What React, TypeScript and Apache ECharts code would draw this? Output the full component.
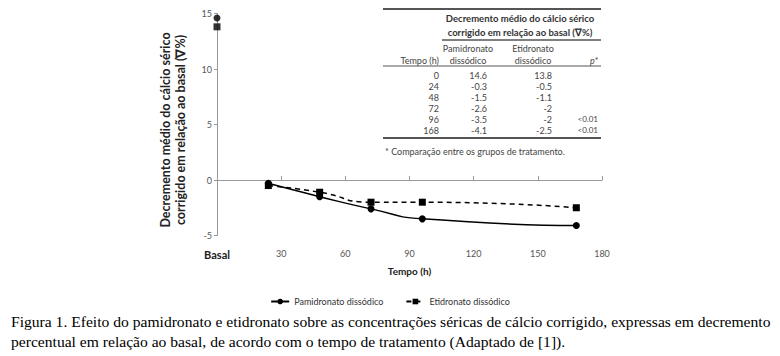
import React, { useEffect, useRef } from "react";
import * as echarts from "echarts";

const times = [0, 24, 48, 72, 96, 168];
const pamidronato = [14.6, -0.3, -1.5, -2.6, -3.5, -4.1];
const etidronato = [13.8, -0.5, -1.1, -2, -2, -2.5];
const pValues = ["", "", "", "", "<0.01", "<0.01"];
const seriesNames = ["Pamidronato dissódico", "Etidronato dissódico"];
const yAxisTitle = ["Decremento médio do cálcio sérico", "corrigido em relação ao basal (∇%)"];
const xAxisTitle = "Tempo (h)";
const tableHeader = ["Decremento médio do cálcio sérico", "corrigido em relação ao basal (∇%)"];
const tableColumns = ["Tempo (h)", "Pamidronato\ndissódico", "Etidronato\ndissódico", "p*"];
const tableFootnote = "* Comparação entre os grupos de tratamento.";
const captionLines = [
  "Figura 1. Efeito do pamidronato e etidronato sobre as concentrações séricas de cálcio corrigido, expressas em decremento",
  "percentual em relação ao basal, de acordo com o tempo de tratamento (Adaptado de [1]).",
];

const FONT = "Lato, 'Open Sans', sans-serif";
const SERIF = "'Liberation Serif', 'Times New Roman', serif";

export default function App() {
  const ref = useRef<HTMLDivElement>(null);
  useEffect(() => {
    if (!ref.current) return;
    const chart = echarts.init(ref.current, null, { renderer: "svg" });

    const fmt = (v: number) => (v < 0 ? "-" + Math.abs(v) : String(v));
    const rowY0 = 75;
    const rowStep = 11;
    const tableTexts: any[] = [];
    times.forEach((t, i) => {
      const y = rowY0 + i * rowStep;
      tableTexts.push({ type: "text", x: 439, y, style: { text: String(t), align: "right", verticalAlign: "middle", fontSize: 9, fontFamily: FONT, fill: "#444" } });
      tableTexts.push({ type: "text", x: 487, y, style: { text: fmt(pamidronato[i]), align: "right", verticalAlign: "middle", fontSize: 9, fontFamily: FONT, fill: "#444" } });
      tableTexts.push({ type: "text", x: 552, y, style: { text: fmt(etidronato[i]), align: "right", verticalAlign: "middle", fontSize: 9, fontFamily: FONT, fill: "#444" } });
      if (pValues[i]) tableTexts.push({ type: "text", x: 598, y, style: { text: pValues[i], align: "right", verticalAlign: "middle", fontSize: 8, fontFamily: FONT, fill: "#444" } });
    });

    const option: any = {
      animation: false,
      textStyle: { fontFamily: FONT },
      grid: { left: 217, top: 13.5, width: 385, height: 222, containLabel: false },
      legend: {
        data: seriesNames,
        left: "center",
        top: 292,
        itemWidth: 18,
        itemHeight: 7,
        itemGap: 22,
        textStyle: { fontSize: 9, color: "#333", fontFamily: FONT },
      },
      xAxis: [
        {
          type: "value",
          min: 0,
          max: 180,
          interval: 30,
          axisLine: { show: false, onZero: false },
          axisTick: { show: false },
          splitLine: { show: false },
          axisLabel: {
            margin: 13,
            fontSize: 9,
            color: "#555",
            formatter: (v: number) => (v === 0 ? "{b|Basal}" : String(v)),
            rich: { b: { fontSize: 11, fontWeight: "bold", color: "#222", fontFamily: FONT } },
          },
          name: xAxisTitle,
          nameLocation: "middle",
          nameGap: 30,
          nameTextStyle: { fontSize: 10, fontWeight: "bold", color: "#222" },
        },
        {
          type: "value",
          min: 0,
          max: 180,
          interval: 30,
          position: "bottom",
          axisLine: { show: true, onZero: true, lineStyle: { color: "#999", width: 1 } },
          axisTick: { show: true, inside: true, length: 4, lineStyle: { color: "#999" } },
          axisLabel: { show: false },
          splitLine: { show: false },
        },
      ],
      yAxis: {
        type: "value",
        min: -5,
        max: 15,
        interval: 5,
        axisLine: { show: true, lineStyle: { color: "#999", width: 1 } },
        axisTick: { show: true, length: 3, lineStyle: { color: "#999" } },
        splitLine: { show: false },
        axisLabel: { fontSize: 9, color: "#555", margin: 5 },
      },
      series: [
        {
          name: seriesNames[0],
          type: "line",
          xAxisIndex: 0,
          smooth: 0.6,
          symbol: "circle",
          symbolSize: 7,
          itemStyle: { color: "#000" },
          lineStyle: { color: "#000", width: 1.5 },
          data: times.slice(1).map((t, i) => [t, pamidronato[i + 1]]),
          z: 3,
        },
        {
          name: seriesNames[1],
          type: "line",
          xAxisIndex: 0,
          smooth: 0.6,
          symbol: "rect",
          symbolSize: 7,
          itemStyle: { color: "#000" },
          lineStyle: { color: "#000", width: 1.5, type: [5, 4] },
          data: times.slice(1).map((t, i) => [t, etidronato[i + 1]]),
          z: 3,
        },
        {
          name: "basal-p",
          type: "scatter",
          xAxisIndex: 0,
          symbol: "circle",
          symbolSize: 7,
          itemStyle: { color: "#000" },
          data: [[times[0], pamidronato[0]]],
        },
        {
          name: "basal-e",
          type: "scatter",
          xAxisIndex: 0,
          symbol: "rect",
          symbolSize: 7,
          itemStyle: { color: "#000" },
          data: [[times[0], etidronato[0]]],
        },
      ],
      graphic: [
        {
          type: "text",
          x: 173,
          y: 130,
          rotation: Math.PI / 2,
          style: {
            text: yAxisTitle.join("\n"),
            align: "center",
            verticalAlign: "middle",
            fontSize: 12.5,
            lineHeight: 15,
            fontWeight: "bold",
            fontFamily: FONT,
            fill: "#222",
          },
        },
        // table lines
        { type: "line", shape: { x1: 383, y1: 9, x2: 601, y2: 9 }, style: { stroke: "#555", lineWidth: 2 } },
        { type: "line", shape: { x1: 442, y1: 40, x2: 601, y2: 40 }, style: { stroke: "#555", lineWidth: 1.5 } },
        { type: "line", shape: { x1: 383, y1: 66, x2: 601, y2: 66 }, style: { stroke: "#555", lineWidth: 1 } },
        { type: "line", shape: { x1: 383, y1: 138, x2: 601, y2: 138 }, style: { stroke: "#555", lineWidth: 2 } },
        {
          type: "text",
          x: 520,
          y: 25,
          style: { text: tableHeader.join("\n"), align: "center", verticalAlign: "middle", fontSize: 9.5, lineHeight: 14, fontWeight: "bold", fontFamily: FONT, fill: "#333" },
        },
        { type: "text", x: 439, y: 60, style: { text: tableColumns[0], align: "right", verticalAlign: "middle", fontSize: 9, fontFamily: FONT, fill: "#444" } },
        { type: "text", x: 468, y: 54, style: { text: tableColumns[1], align: "center", verticalAlign: "middle", fontSize: 9, lineHeight: 12, fontFamily: FONT, fill: "#444" } },
        { type: "text", x: 533, y: 54, style: { text: tableColumns[2], align: "center", verticalAlign: "middle", fontSize: 9, lineHeight: 12, fontFamily: FONT, fill: "#444" } },
        { type: "text", x: 598, y: 60, style: { text: tableColumns[3], align: "right", verticalAlign: "middle", fontSize: 9, fontStyle: "italic", fontFamily: FONT, fill: "#444" } },
        ...tableTexts,
        { type: "text", x: 385, y: 151, style: { text: tableFootnote, align: "left", verticalAlign: "middle", fontSize: 9, fontFamily: FONT, fill: "#444" } },
        // caption
        { type: "text", x: 11, y: 321, style: { text: captionLines[0], align: "left", verticalAlign: "middle", fontSize: 15.6, fontFamily: SERIF, fill: "#000" } },
        { type: "text", x: 11, y: 341, style: { text: captionLines[1], align: "left", verticalAlign: "middle", fontSize: 15.6, fontFamily: SERIF, fill: "#000" } },
      ],
    };
    chart.setOption(option);
    return () => chart.dispose();
  }, []);
  return <div ref={ref} style={{ position: "absolute", left: 0, top: 0, width: 780, height: 356, background: "#fff" }} />;
}
